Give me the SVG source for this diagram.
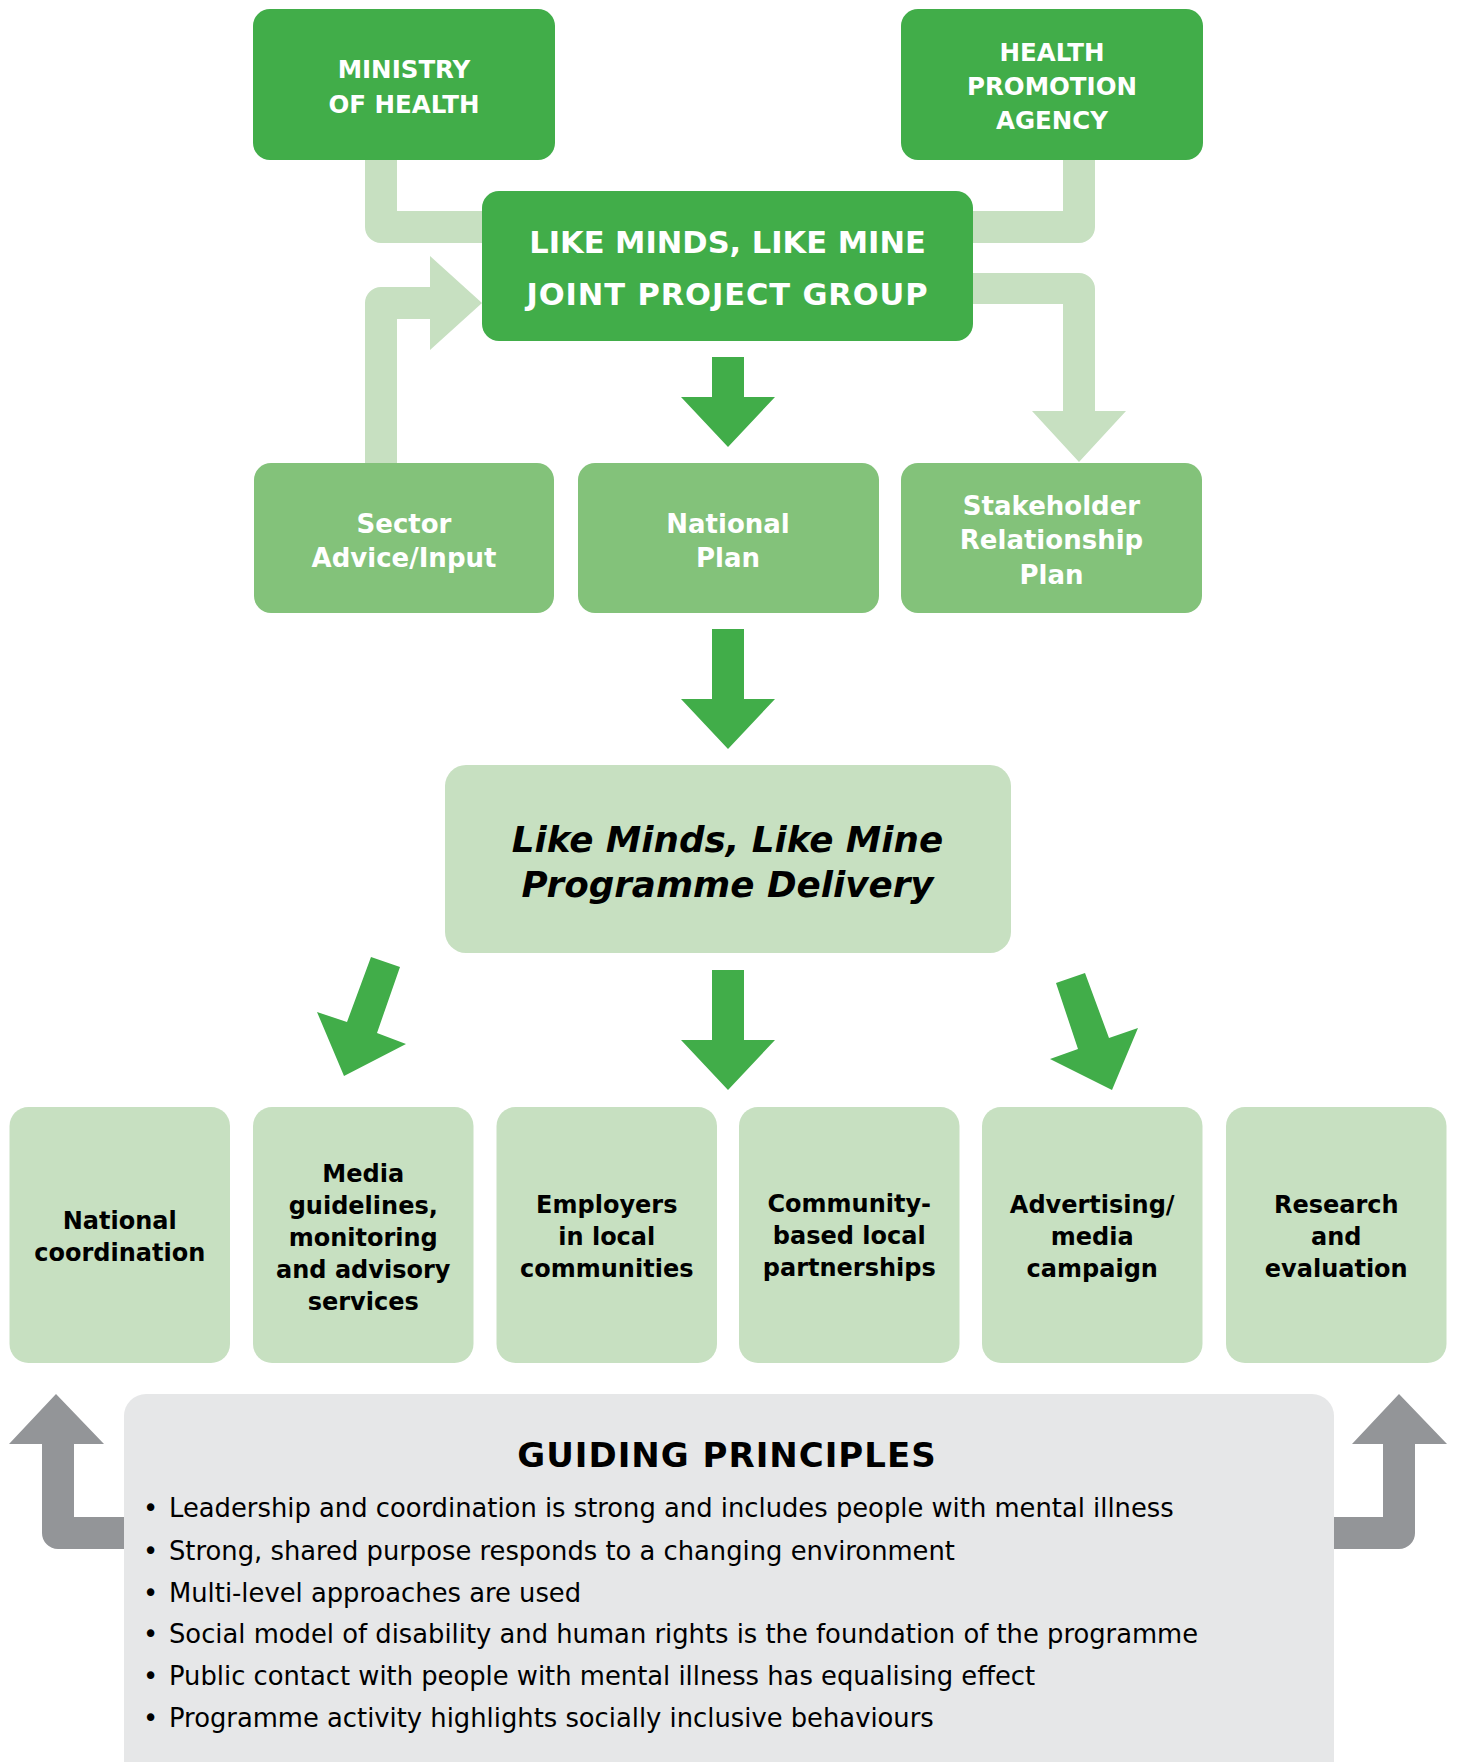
<svg xmlns="http://www.w3.org/2000/svg" width="1457" height="1762" viewBox="0 0 1457 1762">
<style>
.dark{fill:#41ad49}
.mid{fill:#83c27a}
.light{fill:#c7e0c1}
.conn{fill:#c7e0c1}
.garrow{fill:#939598}
.gbox{fill:#e6e7e8}
text{font-family:"DejaVu Sans","Liberation Sans",sans-serif}
.wt{fill:#ffffff;font-weight:bold;text-anchor:middle}
.bt{fill:#000000;font-weight:bold;text-anchor:middle;font-size:24px}
.top{font-size:24.5px}
.row{font-size:26px}
.bul{fill:#000000;font-size:25.8px}
</style>
<rect width="1457" height="1762" fill="#ffffff"/>
<g id="connectors">
<path class="conn" d="M365,160 H397 V211 H482 V243 H381 A16,16 0 0 1 365,227 Z"/>
<path class="conn" d="M1063,160 H1095 V227 A16,16 0 0 1 1079,243 H973 V211 H1063 Z"/>
<path class="conn" d="M973,273 H1079 A16,16 0 0 1 1095,289 V411 H1126 L1079,462 L1032,411 H1063 V304 H973 Z"/>
<path class="conn" d="M365,463 V303 A16,16 0 0 1 381,287 H430 V256 L482,303 L430,350 V319 H397 V463 Z"/>
<path class="dark" d="M712,357 H744 V397 H775 L728,447 L681,397 H712 Z"/>
<path class="dark" d="M712,629 H744 V699 H775 L728,749 L681,699 H712 Z"/>
<path class="dark" d="M712,970 H744 V1040 H775 L728,1090 L681,1040 H712 Z"/>
<path class="dark" d="M371,957 L400,967 L377,1033 L406,1044 L344,1076 L317,1012 L347,1022 Z"/>
<path class="dark" d="M1056,983 L1085,973 L1109,1038 L1138,1028 L1112,1090 L1050,1059 L1078,1049 Z"/>
<path class="garrow" d="M124,1517 H74 V1444 H104 L56,1394 L9,1444 H42 V1533 A16,16 0 0 0 58,1549 H124 Z"/>
<path class="garrow" d="M1334,1517 H1383 V1444 H1352 L1399,1394 L1447,1444 H1415 V1533 A16,16 0 0 1 1399,1549 H1334 Z"/>
</g>
<g id="ministry">
<rect class="dark" x="253" y="9" width="302" height="151" rx="17"/>
<text class="wt top" x="404" y="78">MINISTRY</text>
<text class="wt top" x="404" y="113">OF HEALTH</text>
</g>
<g id="hpa">
<rect class="dark" x="901" y="9" width="302" height="151" rx="17"/>
<text class="wt top" x="1052" y="61">HEALTH</text>
<text class="wt top" x="1052" y="95">PROMOTION</text>
<text class="wt top" x="1052" y="129">AGENCY</text>
</g>
<g id="joint">
<rect class="dark" x="482" y="191" width="491" height="150" rx="17"/>
<text class="wt" x="727.5" y="253" font-size="30.5">LIKE MINDS, LIKE MINE</text>
<text class="wt" x="727.5" y="305" font-size="30.5" letter-spacing="0.9">JOINT PROJECT GROUP</text>
</g>
<g id="sector">
<rect class="mid" x="254" y="463" width="300" height="150" rx="17"/>
<text class="wt row" x="404" y="533">Sector</text>
<text class="wt row" x="404" y="567">Advice/Input</text>
</g>
<g id="national-plan">
<rect class="mid" x="578" y="463" width="301" height="150" rx="17"/>
<text class="wt row" x="728" y="533">National</text>
<text class="wt row" x="728" y="567">Plan</text>
</g>
<g id="stakeholder">
<rect class="mid" x="901" y="463" width="301" height="150" rx="17"/>
<text class="wt row" x="1051.5" y="515">Stakeholder</text>
<text class="wt row" x="1051.5" y="549">Relationship</text>
<text class="wt row" x="1051.5" y="584">Plan</text>
</g>
<g id="delivery">
<rect class="light" x="445" y="765" width="566" height="188" rx="21"/>
<text x="727.5" y="852" font-size="35.7" font-weight="bold" font-style="italic" text-anchor="middle" fill="#000000">Like Minds, Like Mine</text>
<text x="727.5" y="897" font-size="35.7" font-weight="bold" font-style="italic" text-anchor="middle" fill="#000000">Programme Delivery</text>
</g>
<g id="national-coordination">
<rect class="light" x="9.5" y="1107" width="220.5" height="256" rx="19"/>
<text class="bt" x="119.75" y="1229">National</text>
<text class="bt" x="119.75" y="1261">coordination</text>
</g>
<g id="media">
<rect class="light" x="253" y="1107" width="220.5" height="256" rx="19"/>
<text class="bt" x="363.25" y="1182">Media</text>
<text class="bt" x="363.25" y="1214">guidelines,</text>
<text class="bt" x="363.25" y="1246">monitoring</text>
<text class="bt" x="363.25" y="1278">and advisory</text>
<text class="bt" x="363.25" y="1310">services</text>
</g>
<g id="employers">
<rect class="light" x="496.5" y="1107" width="220.5" height="256" rx="19"/>
<text class="bt" x="606.75" y="1213">Employers</text>
<text class="bt" x="606.75" y="1245">in local</text>
<text class="bt" x="606.75" y="1277">communities</text>
</g>
<g id="community">
<rect class="light" x="739" y="1107" width="220.5" height="256" rx="19"/>
<text class="bt" x="849.25" y="1212">Community-</text>
<text class="bt" x="849.25" y="1244">based local</text>
<text class="bt" x="849.25" y="1276">partnerships</text>
</g>
<g id="advertising">
<rect class="light" x="982" y="1107" width="220.5" height="256" rx="19"/>
<text class="bt" x="1092.25" y="1213">Advertising/</text>
<text class="bt" x="1092.25" y="1245">media</text>
<text class="bt" x="1092.25" y="1277">campaign</text>
</g>
<g id="research">
<rect class="light" x="1226" y="1107" width="220.5" height="256" rx="19"/>
<text class="bt" x="1336.25" y="1213">Research</text>
<text class="bt" x="1336.25" y="1245">and</text>
<text class="bt" x="1336.25" y="1277">evaluation</text>
</g>
<g id="guiding-principles">
<rect class="gbox" x="124" y="1394" width="1210" height="420" rx="22"/>
<text x="727" y="1467" font-size="34" font-weight="bold" letter-spacing="1" text-anchor="middle" fill="#000000">GUIDING PRINCIPLES</text>
<text class="bul" y="1517"><tspan x="143">•</tspan><tspan x="169">Leadership and coordination is strong and includes people with mental illness</tspan></text>
<text class="bul" y="1560"><tspan x="143">•</tspan><tspan x="169">Strong, shared purpose responds to a changing environment</tspan></text>
<text class="bul" y="1602"><tspan x="143">•</tspan><tspan x="169">Multi-level approaches are used</tspan></text>
<text class="bul" y="1643"><tspan x="143">•</tspan><tspan x="169">Social model of disability and human rights is the foundation of the programme</tspan></text>
<text class="bul" y="1685"><tspan x="143">•</tspan><tspan x="169">Public contact with people with mental illness has equalising effect</tspan></text>
<text class="bul" y="1727"><tspan x="143">•</tspan><tspan x="169">Programme activity highlights socially inclusive behaviours</tspan></text>
</g>
</svg>
